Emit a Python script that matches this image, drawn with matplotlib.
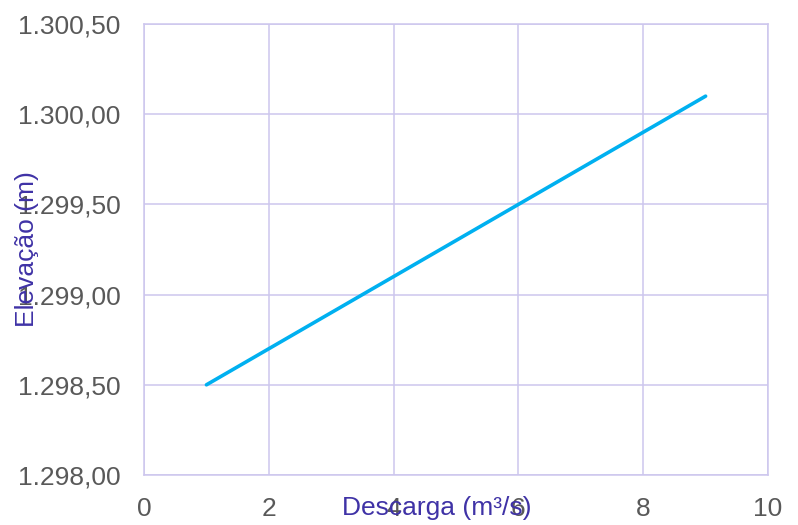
import matplotlib
matplotlib.use('Agg')
import matplotlib.pyplot as plt
from matplotlib.ticker import FuncFormatter

# dados
descarga = [1, 2, 3, 4, 5, 6, 7, 8, 9]
elevacao = [1298.5, 1298.7, 1298.9, 1299.1, 1299.3, 1299.5, 1299.7, 1299.9, 1300.1]
x_ticks = [0, 2, 4, 6, 8, 10]
y_ticks = [1298.0, 1298.5, 1299.0, 1299.5, 1300.0, 1300.5]

plt.rcParams['font.family'] = ['Liberation Sans', 'DejaVu Sans']

grid_cor = '#cdc6ee'
label_cor = '#3f32a6'
tick_cor = '#595959'

fig = plt.figure(figsize=(7.98, 5.25), dpi=100)
ax = fig.add_axes([0.1805, 0.0952, 0.9624 - 0.1805, 0.9543 - 0.0952])

ax.plot(descarga, elevacao, color='#00b0f0', linewidth=2.6, solid_capstyle='round')

ax.set_xlim(0, 10)
ax.set_ylim(1298.0, 1300.5)
ax.set_xticks(x_ticks)
ax.set_yticks(y_ticks)


def br_fmt(v, pos):
    # formato brasileiro: 1.300,50
    s = f'{v:,.2f}'
    return s.replace(',', 'X').replace('.', ',').replace('X', '.')


ax.yaxis.set_major_formatter(FuncFormatter(br_fmt))
ax.xaxis.set_major_formatter(FuncFormatter(lambda v, p: f'{v:g}'))

ax.grid(True, color=grid_cor, linewidth=1.1)
ax.set_axisbelow(True)
for s in ax.spines.values():
    s.set_color(grid_cor)
    s.set_linewidth(1.1)

ax.tick_params(length=0, labelsize=19, labelcolor=tick_cor)
ax.tick_params(axis='y', pad=17)
ax.tick_params(axis='x', pad=16)

ax.set_xlabel('Descarga (m³/s)', fontsize=19, color=label_cor)
ax.set_ylabel('Elevação (m)', fontsize=19, color=label_cor)
ax.xaxis.set_label_coords(0.4696, -0.073)
ax.xaxis.label.set_va('center')
ax.yaxis.set_label_coords(-0.1875, 0.5)
ax.yaxis.label.set_va('center')

plt.savefig('out.png', dpi=100)
plt.close()
